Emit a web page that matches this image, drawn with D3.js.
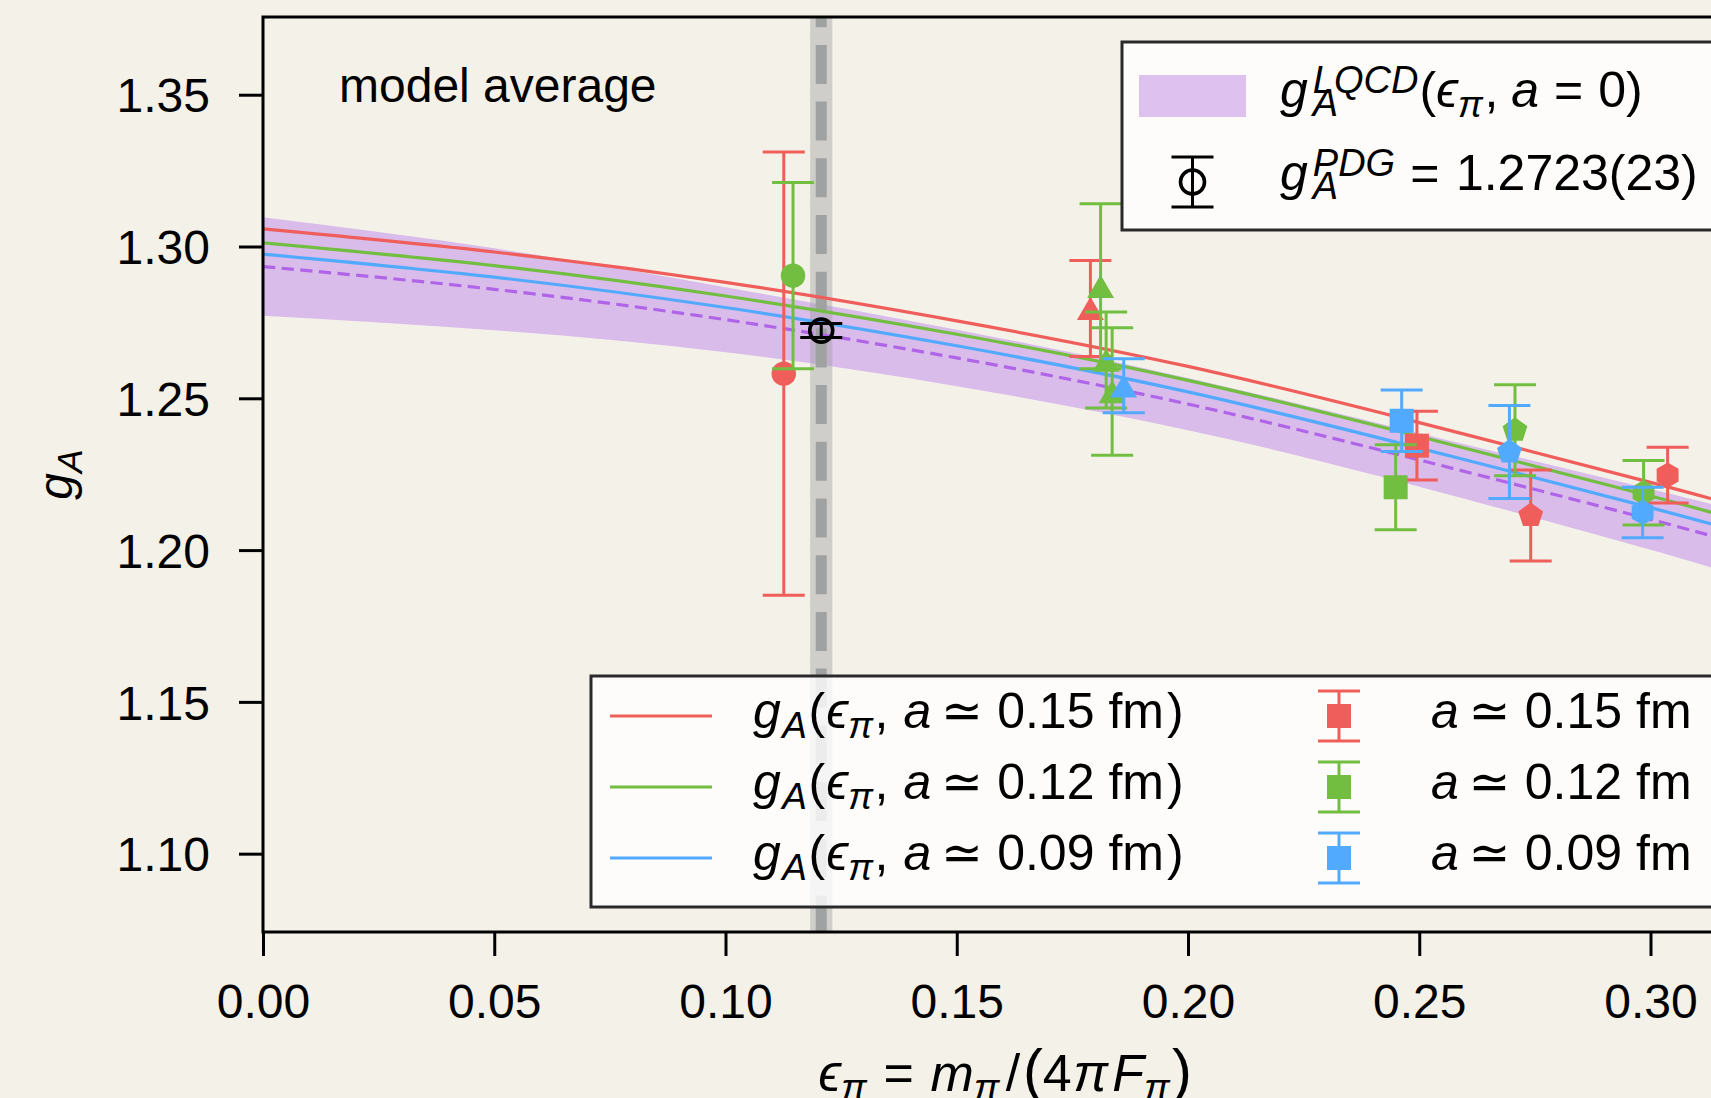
<!DOCTYPE html>
<html lang="en">
<head>
<meta charset="UTF-8">
<title>g_A chiral-continuum extrapolation</title>
<script src="https://cdn.jsdelivr.net/npm/d3@7"></script>
<style>
  body { margin: 0; background: #f4f1e9; }
  svg { display: block; font-family: "Liberation Sans", Arial, Helvetica, "DejaVu Sans", sans-serif; }
</style>
</head>
<body>
<svg id="canvas"></svg>
<script>
// fit curves at these eps_pi values
let epsGrid = [0, 0.05, 0.10, 0.15, 0.20, 0.25, 0.30, 0.32]
let fit015  = [1.3058, 1.2982, 1.2882, 1.2755, 1.2605, 1.2420, 1.2223, 1.2140]
let fit012  = [1.3012, 1.2937, 1.2837, 1.2711, 1.2559, 1.2374, 1.2178, 1.2095]
let fit009  = [1.2975, 1.2899, 1.2799, 1.2673, 1.2521, 1.2336, 1.2140, 1.2056]
let fitCont = [1.2934, 1.2859, 1.2759, 1.2633, 1.2481, 1.2297, 1.2101, 1.2017]
let bandLo  = [1.2772, 1.2724, 1.2652, 1.2540, 1.2395, 1.2209, 1.2001, 1.1909]
let bandHi  = [1.3096, 1.2994, 1.2866, 1.2726, 1.2567, 1.2385, 1.2201, 1.2125]

// lattice points: [eps_pi, gA, error, marker]
let pts015 = [
  [0.1126, 1.2581, 0.0730, 'circle'],
  [0.1789, 1.2796, 0.0158, 'triangle'],
  [0.2495, 1.2344, 0.0113, 'square'],
  [0.2741, 1.2114, 0.0150, 'pentagon'],
  [0.3037, 1.2247, 0.0092, 'hexagon']
]
let pts012 = [
  [0.1146, 1.2904, 0.0307, 'circle'],
  [0.1811, 1.2869, 0.0272, 'triangle'],
  [0.1823, 1.2626, 0.0158, 'triangle'],
  [0.1836, 1.2522, 0.0210, 'triangle'],
  [0.2449, 1.2207, 0.0140, 'square'],
  [0.2707, 1.2395, 0.0150, 'pentagon'],
  [0.2985, 1.2189, 0.0106, 'hexagon']
]
let pts009 = [
  [0.1861, 1.2541, 0.0089, 'triangle'],
  [0.2462, 1.2426, 0.0101, 'square'],
  [0.2695, 1.2323, 0.0153, 'pentagon'],
  [0.2983, 1.2124, 0.0083, 'hexagon']
]

let pdg = [0.1207, 1.2723, 0.0023]
let physEps = 0.1207, physErr = 0.0024

let xTicks = [0, 0.05, 0.10, 0.15, 0.20, 0.25, 0.30]
let yTicks = [1.10, 1.15, 1.20, 1.25, 1.30, 1.35]
let spacings = ['0.15', '0.12', '0.09']

let red = '#ef5e5a', green = '#72be40', blue = '#52aaff'
let bandColor = '#d9bcea', contColor = '#b064e8'

let width = 1711, height = 1098
let axL = 263, axT = 17, axB = 932, axR = 1743
let fs = 48, lfs = 50

let svg = d3.select('#canvas').attr('width', width).attr('height', height)
svg.append('rect').attr('width', width).attr('height', height).attr('fill', '#f4f1e9')

let xScale = d3.scaleLinear().domain([0, 0.32]).range([axL, axR])
let yScale = d3.scaleLinear().domain([1.0742, 1.3756]).range([axB, axT])

// little helper for math-ish labels: sub/superscripts, italics
let rich = (parent, x, y, parts, size) => {
  let t = parent.append('text').attr('font-size', size).attr('fill', '#000')
  let cx = 0, prevStart = 0, prevEnd = 0
  parts.forEach(p => {
    let start = p.stack ? prevStart : cx + (p.gap || 0) * size
    let ts = t.append('tspan')
      .attr('x', x + start)
      .attr('y', y - (p.sh || 0) * size)
      .attr('font-size', size * (p.sc || 1))
      .attr('font-style', p.it ? 'italic' : 'normal')
      .text(p.t)
    let end = start + ts.node().getComputedTextLength()
    cx = p.stack ? Math.max(prevEnd, end) : end
    prevStart = start
    prevEnd = end
  })
  return cx
}
let sup = 0.3, sub = -0.2, ssc = 0.74

let makeClip = () => {
  svg.append('clipPath').attr('id', 'plotclip')
    .append('rect').attr('x', axL).attr('y', axT).attr('width', axR - axL).attr('height', axB - axT)
}

let makeCurves = () => {
  let plot = svg.append('g').attr('clip-path', 'url(#plotclip)')

  let area = d3.area()
    .x((d, i) => xScale(epsGrid[i]))
    .y0((d, i) => yScale(bandLo[i]))
    .y1((d, i) => yScale(bandHi[i]))
    .curve(d3.curveNatural)
  plot.append('path').datum(epsGrid).attr('d', area).attr('fill', bandColor)

  // physical pion mass band
  plot.append('rect')
    .attr('x', xScale(physEps - physErr)).attr('y', axT)
    .attr('width', xScale(physEps + physErr) - xScale(physEps - physErr))
    .attr('height', axB - axT)
    .attr('fill', '#9a9a9a').attr('opacity', 0.4)
  plot.append('line')
    .attr('x1', xScale(physEps)).attr('x2', xScale(physEps))
    .attr('y1', axT).attr('y2', axB)
    .attr('stroke', '#a0a2a2').attr('stroke-width', 11)
    .attr('stroke-dasharray', '39 17.7').attr('stroke-dashoffset', 28.8)

  let line = ys => d3.line()
    .x((d, i) => xScale(epsGrid[i]))
    .y((d, i) => yScale(ys[i]))
    .curve(d3.curveNatural)(epsGrid)

  plot.append('path').attr('d', line(fitCont)).attr('fill', 'none')
    .attr('stroke', contColor).attr('stroke-width', 3.2).attr('stroke-dasharray', '12.3 6.4')
  ;[[fit015, red], [fit012, green], [fit009, blue]].forEach(([ys, c]) => {
    plot.append('path').attr('d', line(ys)).attr('fill', 'none')
      .attr('stroke', c).attr('stroke-width', 3.2)
  })
}

let polygon = (n) => ({
  draw: (ctx, size) => {
    let r = Math.sqrt(size) / 2
    for (let k = 0; k < n; k++) {
      let a = -Math.PI / 2 + k * 2 * Math.PI / n
      if (k) ctx.lineTo(r * Math.cos(a), r * Math.sin(a))
      else ctx.moveTo(r * Math.cos(a), r * Math.sin(a))
    }
    ctx.closePath()
  }
})
let triangle = {
  draw: (ctx, size) => {
    let r = Math.sqrt(size) / 2
    ctx.moveTo(0, -r * 0.95)
    ctx.lineTo(r * 1.1, r * 0.95)
    ctx.lineTo(-r * 1.1, r * 0.95)
    ctx.closePath()
  }
}
let symbols = {
  circle: d3.symbol().type(d3.symbolCircle).size(Math.PI * 150),
  square: d3.symbol().type(d3.symbolSquare).size(576),
  triangle: d3.symbol().type(triangle).size(600),
  pentagon: d3.symbol().type(polygon(5)).size(680),
  hexagon: d3.symbol().type(polygon(6)).size(640)
}

let errorBar = (g, cx, y0, y1, color, cap) => {
  g.append('line').attr('x1', cx).attr('x2', cx).attr('y1', y0).attr('y2', y1)
    .attr('stroke', color).attr('stroke-width', 3)
  ;[y0, y1].forEach(y => {
    g.append('line').attr('x1', cx - cap).attr('x2', cx + cap).attr('y1', y).attr('y2', y)
      .attr('stroke', color).attr('stroke-width', 3)
  })
}

let makePoints = () => {
  let g = svg.append('g')
  ;[[pts015, red], [pts012, green], [pts009, blue]].forEach(([pts, c]) => {
    pts.forEach(d => {
      let cx = xScale(d[0])
      errorBar(g, cx, yScale(d[1] - d[2]), yScale(d[1] + d[2]), c, 21)
      g.append('path').attr('d', symbols[d[3]]())
        .attr('transform', `translate(${cx},${yScale(d[1])})`).attr('fill', c)
    })
  })
  // PDG value
  let px = xScale(pdg[0])
  errorBar(g, px, yScale(pdg[1] - pdg[2]), yScale(pdg[1] + pdg[2]), '#000', 21)
  g.append('circle').attr('cx', px).attr('cy', yScale(pdg[1])).attr('r', 11.5)
    .attr('fill', 'none').attr('stroke', '#000').attr('stroke-width', 3.6)
}

let makeAxis = () => {
  let xAxis = d3.axisBottom(xScale).tickValues(xTicks).tickFormat(d3.format('.2f'))
    .tickSize(24).tickPadding(28).tickSizeOuter(0)
  let gx = svg.append('g').attr('transform', `translate(0,${axB})`).call(xAxis)
  let yAxis = d3.axisLeft(yScale).tickValues(yTicks).tickFormat(d3.format('.2f'))
    .tickSize(24).tickPadding(29).tickSizeOuter(0)
  let gy = svg.append('g').attr('transform', `translate(${axL},0)`).call(yAxis)
  ;[gx, gy].forEach(ax => {
    ax.select('.domain').remove()
    ax.selectAll('line').attr('stroke', '#000').attr('stroke-width', 3)
    ax.selectAll('text').attr('font-size', fs).attr('font-family', null).attr('fill', '#000')
  })
  gy.selectAll('text').attr('dy', '0.36em')

  svg.append('rect').attr('x', axL).attr('y', axT)
    .attr('width', axR - axL).attr('height', axB - axT)
    .attr('fill', 'none').attr('stroke', '#000').attr('stroke-width', 3)

  // x label, centred on the axes
  let xl = svg.append('g')
  let w = rich(xl, 0, 1091, [
    { t: 'ϵ', it: true }, { t: 'π', it: true, sc: ssc, sh: sub },
    { t: '=', gap: 0.32 },
    { t: 'm', it: true, gap: 0.32 }, { t: 'π', it: true, sc: ssc, sh: sub },
    { t: '/', gap: 0.12 }, { t: '(', sc: 1.15, gap: 0.05 }, { t: '4' }, { t: 'π', it: true, gap: 0.03 },
    { t: 'F', it: true, gap: 0.08 }, { t: 'π', it: true, sc: ssc, sh: sub }, { t: ')', sc: 1.15, gap: 0.04 }
  ], 52)
  xl.attr('transform', `translate(${1005 - w / 2},0)`)

  // y label
  let yl = svg.append('g')
  let wy = rich(yl, 0, 0, [{ t: 'g', it: true }, { t: 'A', it: true, sc: ssc, sh: sub }], fs)
  yl.attr('transform', `translate(72,${(axT + axB) / 2 + wy / 2}) rotate(-90)`)

  svg.append('text').attr('x', 339).attr('y', 102).attr('font-size', fs).text('model average')
}

let makeLegends = () => {
  // upper right legend
  let lg = svg.append('g')
  lg.append('rect').attr('x', 1122).attr('y', 42).attr('width', 700).attr('height', 188)
    .attr('fill', '#fff').attr('fill-opacity', 0.8).attr('stroke', '#2a2a2a').attr('stroke-width', 3)
  lg.append('rect').attr('x', 1139).attr('y', 75).attr('width', 107).attr('height', 42).attr('fill', '#dfc1f0')
  errorBar(lg, 1192.5, 157, 207, '#000', 21)
  lg.append('circle').attr('cx', 1192.5).attr('cy', 182).attr('r', 12)
    .attr('fill', 'none').attr('stroke', '#000').attr('stroke-width', 3.6)
  rich(lg, 1280, 107, [
    { t: 'g', it: true }, { t: 'LQCD', it: true, sc: 0.76, sh: 0.28, gap: 0.1 },
    { t: 'A', it: true, sc: 0.76, sh: -0.17, stack: true },
    { t: '(', gap: 0.02 }, { t: 'ϵ', it: true }, { t: 'π', it: true, sc: ssc, sh: sub }, { t: ',', gap: 0.03 },
    { t: 'a', it: true, gap: 0.26 }, { t: '=', gap: 0.3 }, { t: '0)', gap: 0.3 }
  ], lfs)
  rich(lg, 1280, 190, [
    { t: 'g', it: true }, { t: 'PDG', it: true, sc: 0.76, sh: 0.28, gap: 0.1 },
    { t: 'A', it: true, sc: 0.76, sh: -0.17, stack: true },
    { t: '=', gap: 0.3 }, { t: '1.2723(23)', gap: 0.33 }
  ], lfs)

  // lower legend
  let lb = svg.append('g')
  lb.append('rect').attr('x', 591).attr('y', 676).attr('width', 1200).attr('height', 231)
    .attr('fill', '#fff').attr('fill-opacity', 0.8).attr('stroke', '#2a2a2a').attr('stroke-width', 3)
  let rowY = [716, 787, 858]
  ;[red, green, blue].forEach((c, i) => {
    let y = rowY[i]
    lb.append('line').attr('x1', 610).attr('x2', 712).attr('y1', y).attr('y2', y)
      .attr('stroke', c).attr('stroke-width', 3.2)
    rich(lb, 753, y + 12, [
      { t: 'g', it: true }, { t: 'A', it: true, sc: ssc, sh: sub, gap: 0.03 },
      { t: '(', gap: 0.03 }, { t: 'ϵ', it: true, gap: 0.02 }, { t: 'π', it: true, sc: ssc, sh: sub }, { t: ',', gap: 0.03 },
      { t: 'a', it: true, gap: 0.3 }, { t: '≃', gap: 0.2 }, { t: spacings[i], gap: 0.28 },
      { t: 'fm', gap: 0.28 }, { t: ')', gap: 0.06 }
    ], lfs)
    errorBar(lb, 1339, y - 25, y + 25, c, 21)
    lb.append('path').attr('d', symbols.square()).attr('transform', `translate(1339,${y})`).attr('fill', c)
    rich(lb, 1431, y + 12, [
      { t: 'a', it: true }, { t: '≃', gap: 0.2 }, { t: spacings[i], gap: 0.28 }, { t: 'fm', gap: 0.28 }
    ], lfs)
  })
}

makeClip()
makeCurves()
makePoints()
makeAxis()
makeLegends()
</script>
</body>
</html>
